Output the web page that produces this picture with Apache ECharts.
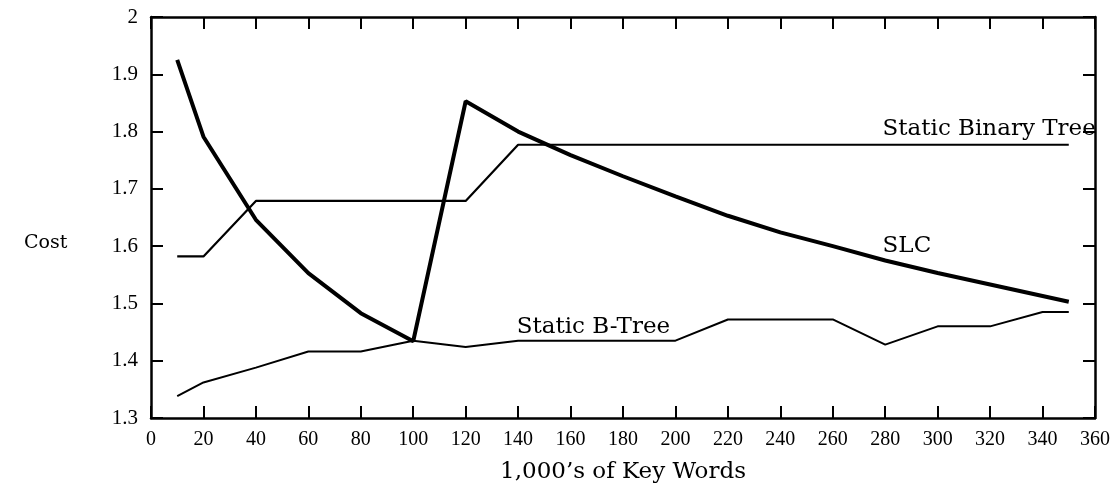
<!DOCTYPE html>
<html>
<head>
<meta charset="utf-8">
<script src="https://cdn.jsdelivr.net/npm/echarts@6/dist/echarts.min.js"></script>
<style>
  html, body { margin: 0; padding: 0; background: #fff; }
  #chart { width: 1118px; height: 489px; }
</style>
</head>
<body>
<div id="chart"></div>
<script>
// key words (thousands)
const keyWords = [10, 20, 40, 60, 80, 100, 120, 140, 160, 180, 200, 220, 240, 260, 280, 300, 320, 340, 350];
const slcCost = [1.925, 1.791, 1.646, 1.553, 1.483, 1.434, 1.853, 1.800, 1.759, 1.722, 1.687, 1.653, 1.624, 1.600, 1.575, 1.553, 1.533, 1.513, 1.503];
const binaryTreeCost = [1.582, 1.582, 1.679, 1.679, 1.679, 1.679, 1.679, 1.777, 1.777, 1.777, 1.777, 1.777, 1.777, 1.777, 1.777, 1.777, 1.777, 1.777, 1.777];
const bTreeCost = [1.338, 1.362, 1.388, 1.416, 1.416, 1.435, 1.424, 1.435, 1.435, 1.435, 1.435, 1.472, 1.472, 1.472, 1.428, 1.460, 1.460, 1.485, 1.485];

const tickFont = 'Liberation Serif';
const wordFont = 'DejaVu Serif';

const pairs = (ys) => keyWords.map((x, i) => [x, ys[i]]);

const lineLabel = (text, x, y) => ({
  symbol: 'circle',
  symbolSize: 0,
  silent: true,
  data: [{ coord: [x, y], value: text }],
  label: {
    show: true,
    position: 'right',
    distance: 0,
    formatter: '{c}',
    color: '#000',
    fontFamily: wordFont,
    fontSize: 23
  }
});

const axisLine = { show: true, onZero: false, lineStyle: { color: '#000', width: 2.5 } };
const axisTick = { show: true, inside: true, length: 12, lineStyle: { color: '#000', width: 2 } };

const chart = echarts.init(document.getElementById('chart'));
chart.setOption({
  animation: false,
  backgroundColor: '#fff',
  grid: { left: 151, right: 23, top: 17, bottom: 70 },
  xAxis: [{
    type: 'value',
    min: 0,
    max: 360,
    interval: 20,
    axisLine: axisLine,
    axisTick: axisTick,
    splitLine: { show: false },
    axisLabel: { color: '#000', fontFamily: tickFont, fontSize: 20, margin: 12 },
    name: '1,000\u2019s of Key Words',
    nameLocation: 'middle',
    nameGap: 43,
    nameTextStyle: { color: '#000', fontFamily: wordFont, fontSize: 23 }
  }, {
    type: 'value',
    position: 'top',
    min: 0,
    max: 360,
    interval: 20,
    axisLine: axisLine,
    axisTick: axisTick,
    splitLine: { show: false },
    axisLabel: { show: false }
  }],
  yAxis: [{
    type: 'value',
    min: 1.3,
    max: 2,
    interval: 0.1,
    axisLine: axisLine,
    axisTick: axisTick,
    splitLine: { show: false },
    axisLabel: {
      color: '#000', fontFamily: tickFont, fontSize: 21, margin: 13,
      formatter: (v) => String(+v.toFixed(1))
    }
  }, {
    type: 'value',
    position: 'right',
    min: 1.3,
    max: 2,
    interval: 0.1,
    axisLine: axisLine,
    axisTick: axisTick,
    splitLine: { show: false },
    axisLabel: { show: false }
  }],
  graphic: [{
    type: 'text',
    left: 24,
    top: 234,
    style: { text: 'Cost', fill: '#000', font: '19px "DejaVu Serif"' }
  }],
  series: [{
    name: 'SLC',
    type: 'line',
    data: pairs(slcCost),
    showSymbol: false,
    lineStyle: { color: '#000', width: 4 },
    markPoint: lineLabel('SLC', 279, 1.600)
  }, {
    name: 'Static Binary Tree',
    type: 'line',
    data: pairs(binaryTreeCost),
    showSymbol: false,
    lineStyle: { color: '#000', width: 2.2 },
    markPoint: lineLabel('Static Binary Tree', 279, 1.805)
  }, {
    name: 'Static B-Tree',
    type: 'line',
    data: pairs(bTreeCost),
    showSymbol: false,
    lineStyle: { color: '#000', width: 2 },
    markPoint: lineLabel('Static B-Tree', 139.5, 1.458)
  }]
});
</script>
</body>
</html>
